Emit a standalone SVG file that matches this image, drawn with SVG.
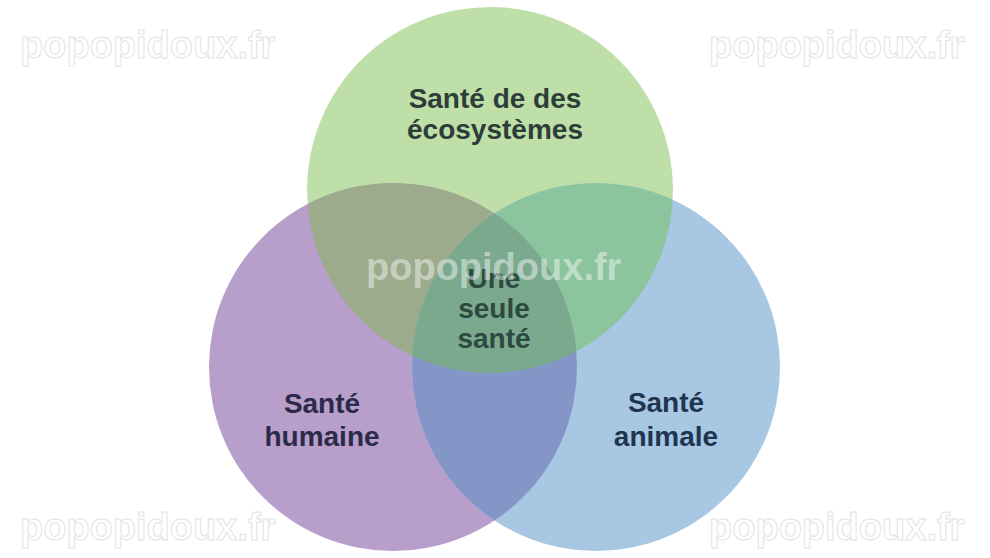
<svg xmlns="http://www.w3.org/2000/svg" width="990" height="558" viewBox="0 0 990 558">
<style>
.lbl{font-family:"Liberation Sans",Arial,sans-serif;font-weight:bold;font-size:28px;text-anchor:middle}
.wm{font-family:"Liberation Sans",Arial,sans-serif;font-weight:bold;font-size:38px}
.wmc{fill:#ffffff;stroke:#e3e3e3;stroke-width:1}
</style>
<defs>
<clipPath id="cG"><circle cx="490" cy="190" r="183"/></clipPath>
<clipPath id="cP"><circle cx="393" cy="367" r="184"/></clipPath>
<clipPath id="cB"><circle cx="596" cy="367" r="184"/></clipPath>
</defs>
<rect width="990" height="558" fill="#ffffff"/>
<g id="circle-ecosystemes">
<circle cx="490" cy="190" r="183" fill="#bedfa8"/>
</g>
<g id="circle-humaine">
<circle cx="393" cy="367" r="184" fill="#b79ecb"/>
</g>
<g id="circle-animale">
<circle cx="596" cy="367" r="184" fill="#a8c7e3"/>
</g>
<g id="overlaps">
<g clip-path="url(#cG)"><circle cx="393" cy="367" r="184" fill="#9bab8c"/></g>
<g clip-path="url(#cG)"><circle cx="596" cy="367" r="184" fill="#8cc49d"/></g>
<g clip-path="url(#cP)"><circle cx="596" cy="367" r="184" fill="#8496c8"/></g>
<g clip-path="url(#cG)"><g clip-path="url(#cP)"><circle cx="596" cy="367" r="184" fill="#7ba98e"/></g></g>
</g>
<g id="connectors"></g>
<g id="label-ecosystemes" class="lbl" fill="#2e3d3a">
<text x="495" y="108" class="lbl">Santé de des</text>
<text x="495" y="139" class="lbl">écosystèmes</text>
</g>
<g id="label-humaine" fill="#2b2a48">
<text x="322" y="413" class="lbl">Santé</text>
<text x="322" y="446" class="lbl">humaine</text>
</g>
<g id="label-animale" fill="#1f3550">
<text x="666" y="412" class="lbl">Santé</text>
<text x="666" y="446" class="lbl">animale</text>
</g>
<g id="label-une-seule-sante" fill="#2d4a40">
<text x="494" y="288" class="lbl">Une</text>
<text x="494" y="318" class="lbl">seule</text>
<text x="494" y="348" class="lbl">santé</text>
</g>
<g id="watermarks">
<text x="20" y="58" class="wm wmc">popopidoux.fr</text>
<text x="709" y="58" class="wm wmc">popopidoux.fr</text>
<text x="20" y="540" class="wm wmc">popopidoux.fr</text>
<text x="709" y="540" class="wm wmc">popopidoux.fr</text>
<text x="366" y="280" class="wm" fill="#ffffff" fill-opacity="0.45">popopidoux.fr</text>
</g>
</svg>
